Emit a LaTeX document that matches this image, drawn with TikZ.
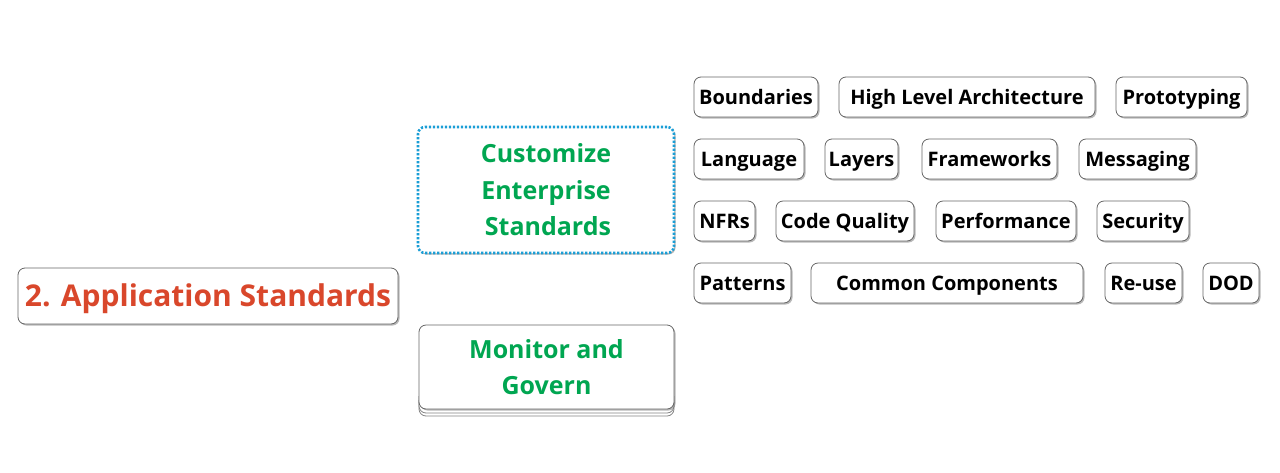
\documentclass[tikz,border=0pt]{standalone}
\usepackage{fontspec}
\setmainfont{Open Sans}
\usetikzlibrary{shadows}
\definecolor{appred}{HTML}{D9472B}
\definecolor{topicgreen}{HTML}{00A651}
\definecolor{dotblue}{HTML}{1A9ED6}
\definecolor{boxgray}{HTML}{666666}

\begin{document}
\begin{tikzpicture}[x=1pt, y=-1pt]
        \tikzset{topic/.style = {shape=rectangle, rounded corners=7pt, draw=boxgray, fill=white, line width=0.8pt,
                 inner sep=0pt, drop shadow={shadow xshift=1.5pt, shadow yshift=-1.5pt, fill=black!55}}}
        \tikzset{leaf/.style = {topic, minimum height=40pt, text height=14.3pt, text depth=0pt,
                 font=\fontsize{20}{24}\selectfont\bfseries}}
        \tikzset{branch/.style = {topic, font=\fontsize{25}{36.5}\selectfont\bfseries, text=topicgreen, align=center}}

        \useasboundingbox[fill=white] (0,0) rectangle (1280,472);

        % root
        \node[topic, minimum width=380pt, minimum height=56pt, text=appred, text height=21.4pt, text depth=0pt,
              font=\fontsize{30}{36}\selectfont\bfseries] (app) at (208,296) {2. Application Standards};

        % branches
        \node[branch, minimum width=256pt, minimum height=126pt, draw=dotblue, line width=2.6pt,
              dash pattern=on 2.2pt off 1.8pt] (cust) at (546,190) {Customize\\Enterprise\\\hspace*{4pt}Standards};
        \draw[boxgray!80, rounded corners=7pt, line width=0.8pt] (419,400) -- (419,416) -- (674,416) -- (674,400);
        \draw[boxgray!80, rounded corners=7pt, line width=0.8pt, fill=white] (419,396) -- (419,413) -- (674,413) -- (674,396);
        \node[branch, minimum width=255pt, minimum height=84pt] (mon) at (546.5,367) {Monitor and\\Govern};

        % leaves
        \node[leaf, minimum width=124pt] (bound) at (756,97) {Boundaries};
        \node[leaf, minimum width=256pt] (hla) at (967,97) {High Level Architecture};
        \node[leaf, minimum width=131pt] (proto) at (1181.5,97) {Prototyping};

        \node[leaf, minimum width=110pt] (lang) at (749,159) {Language};
        \node[leaf, minimum width=73pt] (layers) at (861.5,159) {Layers};
        \node[leaf, minimum width=135pt] (frame) at (989.5,159) {Frameworks};
        \node[leaf, minimum width=117pt] (msg) at (1137.5,159) {Messaging};

        \node[leaf, minimum width=61pt] (nfr) at (724.5,221) {NFRs};
        \node[leaf, minimum width=138pt] (code) at (845,221) {Code Quality};
        \node[leaf, minimum width=140pt] (perf) at (1006,221) {Performance};
        \node[leaf, minimum width=92pt] (sec) at (1143,221) {Security};

        \node[leaf, minimum width=97pt] (pat) at (742.5,283) {Patterns};
        \node[leaf, minimum width=272pt] (comm) at (947,283) {Common Components};
        \node[leaf, minimum width=77pt] (reuse) at (1143.5,283) {Re-use};
        \node[leaf, minimum width=56pt] (dod) at (1231,283) {DOD};
\end{tikzpicture}
\end{document}
